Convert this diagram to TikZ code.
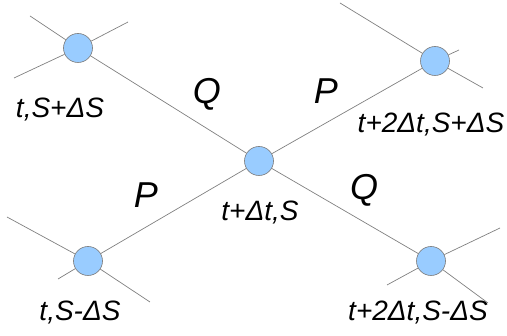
\documentclass[tikz,border=0pt]{standalone}
\usepackage{fontspec}
\setmainfont{Liberation Sans}
\definecolor{dotblue}{HTML}{99CCFF}
\definecolor{dotedge}{HTML}{7A7A7A}
\definecolor{linegray}{HTML}{808080}
\begin{document}
\begin{tikzpicture}[x=1pt,y=-1pt,
  dot/.style={circle,fill=dotblue,draw=dotedge,line width=0.6pt,minimum size=29pt,inner sep=0pt},
  link/.style={draw=linegray,line width=0.7pt},
  lab/.style={font=\fontsize{28}{30}\selectfont\itshape,inner sep=0pt,anchor=base},
  big/.style={font=\fontsize{36}{38}\selectfont\itshape,inner sep=0pt,anchor=base}]
\useasboundingbox (0,0) rectangle (507,336);
% stub ends
\coordinate (a1) at (30,16);
\coordinate (a2) at (14,78);
\coordinate (a3) at (128,22);
\coordinate (b1) at (340,3);
\coordinate (b2) at (459,50);
\coordinate (b3) at (483,88);
\coordinate (d1) at (7,217);
\coordinate (d2) at (58,279);
\coordinate (d3) at (150,302);
\coordinate (e1) at (387,285);
\coordinate (e2) at (500,228);
\coordinate (e3) at (488,303);
% nodes
\node[dot] (a) at (78,48) {};
\node[dot] (b) at (435,61) {};
\node[dot] (c) at (259,161) {};
\node[dot] (d) at (88,261) {};
\node[dot] (e) at (431,261) {};
% connectors
\draw[link] (a) -- (c);
\draw[link] (c) -- (b);
\draw[link] (c) -- (d);
\draw[link] (c) -- (e);
\draw[link] (a) -- (a1);
\draw[link] (a) -- (a2);
\draw[link] (a) -- (a3);
\draw[link] (b) -- (b1);
\draw[link] (b) -- (b2);
\draw[link] (b) -- (b3);
\draw[link] (d) -- (d1);
\draw[link] (d) -- (d2);
\draw[link] (d) -- (d3);
\draw[link] (e) -- (e1);
\draw[link] (e) -- (e2);
\draw[link] (e) -- (e3);
% labels
\node[big] (q1) at (207,104) {Q};
\node[big] (p1) at (326,104) {P};
\node[big] (p2) at (146,208) {P};
\node[big] (q2) at (364,200) {Q};
\node[lab] (la) at (60,118) {t,S+ΔS};
\node[lab] (lb) at (431,133) {t+2Δt,S+ΔS};
\node[lab] (lc) at (260,221) {t+Δt,S};
\node[lab] (ld) at (80,321) {t,S-ΔS};
\node[lab] (le) at (418,321) {t+2Δt,S-ΔS};
\end{tikzpicture}
\end{document}
